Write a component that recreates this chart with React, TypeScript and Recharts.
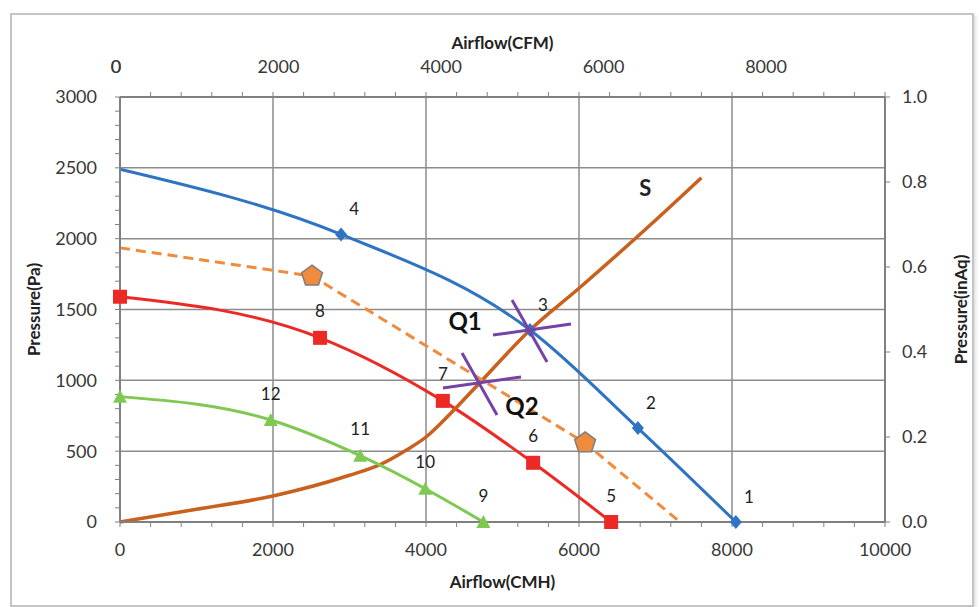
import React from 'react';
import { ComposedChart, Line, Scatter, XAxis, YAxis, CartesianGrid, LabelList } from 'recharts';

// axis ticks
const cmhMajor = [2000, 4000, 6000, 8000];
const cmhTicks = Array.from({ length: 26 }, (_, i) => i * 400);
const cfmTicks = [0, 2000, 4000, 6000, 8000];
const cfmSpan = 9415; // CFM value at the right edge of the plot (10000 CMH)
const paMajor = [500, 1000, 1500, 2000, 2500];
const paTicks = Array.from({ length: 31 }, (_, i) => i * 100);
const inAqTicks = [0, 0.2, 0.4, 0.6, 0.8, 1.0];

// fan curves (airflow CMH / pressure Pa)
const blueFlow = [0, 2890, 5360, 6770, 8050];
const bluePa = [2490, 2030, 1355, 663, 0];
const blueTags = ['', '4', '3', '2', '1'];

const orangeFlow = [0, 2510, 6080, 7320];
const orangePa = [1935, 1736, 558, 0];

const redFlow = [0, 2615, 4220, 5400, 6420];
const redPa = [1590, 1300, 855, 418, 0];
const redTags = ['', '8', '7', '6', '5'];

const greenFlow = [0, 1970, 3140, 3990, 4750];
const greenPa = [885, 720, 468, 235, 0];
const greenTags = ['', '12', '11', '10', '9'];

// system curve
const sysFlow = [0, 1000, 2000, 3000, 3400, 3750, 4000, 4200, 4400, 4700, 5360, 6000, 7000, 7600];
const sysPa = [0, 90, 184, 330, 405, 510, 600, 700, 810, 981, 1355, 1650, 2130, 2430];
const sysTags = ['', '', '', '', '', '', '', '', '', '', '', '', '', 'S'];

// operating points
const opNames = ['Q1', 'Q2'];
const opFlow = [5360, 4706];
const opPa = [1355, 981];

const rows = (flow: number[], pa: number[], tags?: string[]) =>
  flow.map((x, i) => ({ x, y: pa[i], tag: tags ? tags[i] : '' }));

// top axis: CFM labels placed on the CMH scale, plus minor tick marks
const cfmPos = cfmTicks.map((v) => (v * 10000) / cfmSpan);
const topTicks = [...cmhTicks, ...cfmPos];

const BLUE = '#2f74c2';
const RED = '#ec2a25';
const GREEN = '#7fc953';
const ORANGE = '#f08a3c';
const BROWN = '#c8611d';
const PURPLE = '#7442a8';
const AXIS = '#808080';
const GRID = '#8c8c8c';

const qLabelOffset: Record<string, [number, number]> = { Q1: [-65, -10], Q2: [42, 22] };

const Diamond = (p: any) => {
  const { cx, cy, index } = p;
  if (index === 0 || cx == null) return <g key={`d${index}`} />;
  return <path key={`d${index}`} d={`M${cx},${cy - 7}L${cx + 6},${cy}L${cx},${cy + 7}L${cx - 6},${cy}Z`} fill={BLUE} />;
};

const Square = (p: any) => {
  const { cx, cy, index } = p;
  if (cx == null) return <g key={`s${index}`} />;
  return <rect key={`s${index}`} x={cx - 7} y={cy - 7} width={14} height={14} fill={RED} />;
};

const Triangle = (p: any) => {
  const { cx, cy, index } = p;
  if (cx == null) return <g key={`t${index}`} />;
  return <path key={`t${index}`} d={`M${cx},${cy - 7}L${cx + 7},${cy + 6}L${cx - 7},${cy + 6}Z`} fill={GREEN} />;
};

const Pentagon = (p: any) => {
  const { cx, cy, index } = p;
  if (cx == null || index === 0 || index === orangeFlow.length - 1) return <g key={`p${index}`} />;
  const pts = Array.from({ length: 5 }, (_, k) => {
    const a = ((-90 + k * 72) * Math.PI) / 180;
    return `${cx + 11 * Math.cos(a)},${cy + 11 * Math.sin(a)}`;
  }).join(' ');
  return <polygon key={`p${index}`} points={pts} fill={ORANGE} stroke="#7f7f7f" strokeWidth={1.5} />;
};

const tagLabel = (dx: number, dy: number, size = 17, weight: number | string = 400) => (p: any) => {
  const { x, y, value } = p;
  if (!value) return null;
  return (
    <text x={x + dx} y={y + dy} textAnchor="middle" dominantBaseline="central" fontSize={size} fontWeight={weight} fill="#222">
      {value}
    </text>
  );
};

const QMark = (p: any) => {
  const { cx, cy, payload } = p;
  const [lx, ly] = qLabelOffset[payload.name];
  return (
    <g>
      <line x1={cx - 37} y1={cy + 5} x2={cx + 41} y2={cy - 6} stroke={PURPLE} strokeWidth={3} />
      <line x1={cx - 18} y1={cy - 30} x2={cx + 17} y2={cy + 32} stroke={PURPLE} strokeWidth={3} />
      <text x={cx + lx} y={cy + ly} textAnchor="middle" dominantBaseline="central" fontSize={24} fontWeight={700} fill="#111">
        {payload.name}
      </text>
    </g>
  );
};

const tickStyle = { fill: '#383838', fontSize: 18 };
const titleStyle = { fill: '#222', fontSize: 17, fontWeight: 700 };

const TopTick = (p: any) => {
  const { x, y, payload } = p;
  const k = cfmPos.indexOf(payload.value);
  if (k >= 0) {
    return (
      <text x={x - 4} y={y - 19} textAnchor="middle" fontSize={tickStyle.fontSize} fill={tickStyle.fill}>
        {cfmTicks[k]}
      </text>
    );
  }
  return <line x1={x} x2={x} y1={y} y2={y + 5} stroke={AXIS} />;
};

export default function App() {
  const opRows = opNames.map((name, i) => ({ name, x: opFlow[i], y: opPa[i] }));
  return (
    <div style={{ position: 'absolute', left: 0, top: 0, width: 979, height: 607, background: '#fff', fontFamily: 'Lato, "Open Sans", sans-serif' }}>
      <div style={{ position: 'absolute', left: 10, top: 13, width: 960, height: 590, border: '2px solid #c4c4c4', boxShadow: '2px 2px 3px #e0e0e0' }} />
      <div style={{ position: 'absolute', left: 0, top: 0 }}>
        <ComposedChart width={979} height={607} margin={{ top: 54, right: 4, bottom: 15, left: 30 }}>
          <CartesianGrid
            xAxisId="cmh"
            yAxisId="pa"
            horizontalValues={paMajor}
            verticalValues={cmhMajor}
            stroke={GRID}
            strokeWidth={1.5}
          />
          <XAxis
            xAxisId="top"
            orientation="top"
            type="number"
            dataKey="x"
            domain={[0, 10000]}
            allowDataOverflow
            ticks={topTicks}
            interval={0}
            height={43}
            tickSize={5}
            tickMargin={0}
            tickLine={false}
            tick={TopTick}
            axisLine={{ stroke: AXIS, strokeWidth: 2 }}
            label={{ value: 'Airflow(CFM)', position: 'top', offset: 5, style: titleStyle }}
          />
          <XAxis
            xAxisId="cmh"
            type="number"
            dataKey="x"
            domain={[0, 10000]}
            ticks={cmhTicks}
            interval={0}
            tickFormatter={(v: number) => (v % 2000 === 0 ? String(v) : '')}
            height={70}
            tickSize={5}
            tickMargin={16}
            tick={tickStyle}
            tickLine={{ stroke: AXIS }}
            axisLine={{ stroke: AXIS, strokeWidth: 2 }}
            label={{ value: 'Airflow(CMH)', position: 'insideBottom', offset: 4, style: titleStyle }}
          />
          <YAxis
            yAxisId="pa"
            type="number"
            domain={[0, 3000]}
            ticks={paTicks}
            interval={0}
            tickFormatter={(v: number) => (v % 500 === 0 ? String(v) : '')}
            width={90}
            tickSize={5}
            tickMargin={18}
            tick={tickStyle}
            tickLine={{ stroke: AXIS }}
            axisLine={{ stroke: AXIS, strokeWidth: 2 }}
            label={{ value: 'Pressure(Pa)', angle: -90, position: 'insideLeft', offset: 4, style: { ...titleStyle, textAnchor: 'middle' } }}
          />
          <YAxis
            yAxisId="inaq"
            orientation="right"
            type="number"
            domain={[0, 1]}
            allowDataOverflow
            ticks={inAqTicks}
            interval={0}
            tickFormatter={(v: number) => v.toFixed(1)}
            width={90}
            tickSize={5}
            tickMargin={12}
            tick={tickStyle}
            tickLine={{ stroke: AXIS }}
            axisLine={{ stroke: AXIS, strokeWidth: 2 }}
            label={{ value: 'Pressure(inAq)', angle: -90, position: 'insideRight', offset: 14, style: { ...titleStyle, textAnchor: 'middle' } }}
          />

          <Line xAxisId="cmh" yAxisId="pa" data={rows(redFlow, redPa, redTags)} dataKey="y" type="monotone" stroke={RED} strokeWidth={3} dot={Square} activeDot={false} isAnimationActive={false}>
            <LabelList dataKey="tag" content={tagLabel(0, -27)} />
          </Line>
          <Line xAxisId="cmh" yAxisId="pa" data={rows(sysFlow, sysPa, sysTags)} dataKey="y" type="monotone" stroke={BROWN} strokeWidth={3.5} dot={false} activeDot={false} isAnimationActive={false}>
            <LabelList dataKey="tag" content={tagLabel(-56, 10, 22, 700)} />
          </Line>
          <Line xAxisId="cmh" yAxisId="pa" data={rows(greenFlow, greenPa, greenTags)} dataKey="y" type="monotone" stroke={GREEN} strokeWidth={3} dot={Triangle} activeDot={false} isAnimationActive={false}>
            <LabelList dataKey="tag" content={tagLabel(0, -27)} />
          </Line>
          <Line xAxisId="cmh" yAxisId="pa" data={rows(orangeFlow, orangePa)} dataKey="y" type="linear" stroke={ORANGE} strokeWidth={3} strokeDasharray="10 6" dot={Pentagon} activeDot={false} isAnimationActive={false} />
          <Line xAxisId="cmh" yAxisId="pa" data={rows(blueFlow, bluePa, blueTags)} dataKey="y" type="monotone" stroke={BLUE} strokeWidth={3} dot={Diamond} activeDot={false} isAnimationActive={false}>
            <LabelList dataKey="tag" content={tagLabel(13, -26)} />
          </Line>
          <Scatter xAxisId="cmh" yAxisId="pa" data={opRows} dataKey="y" shape={QMark} isAnimationActive={false} />
        </ComposedChart>
      </div>
    </div>
  );
}
